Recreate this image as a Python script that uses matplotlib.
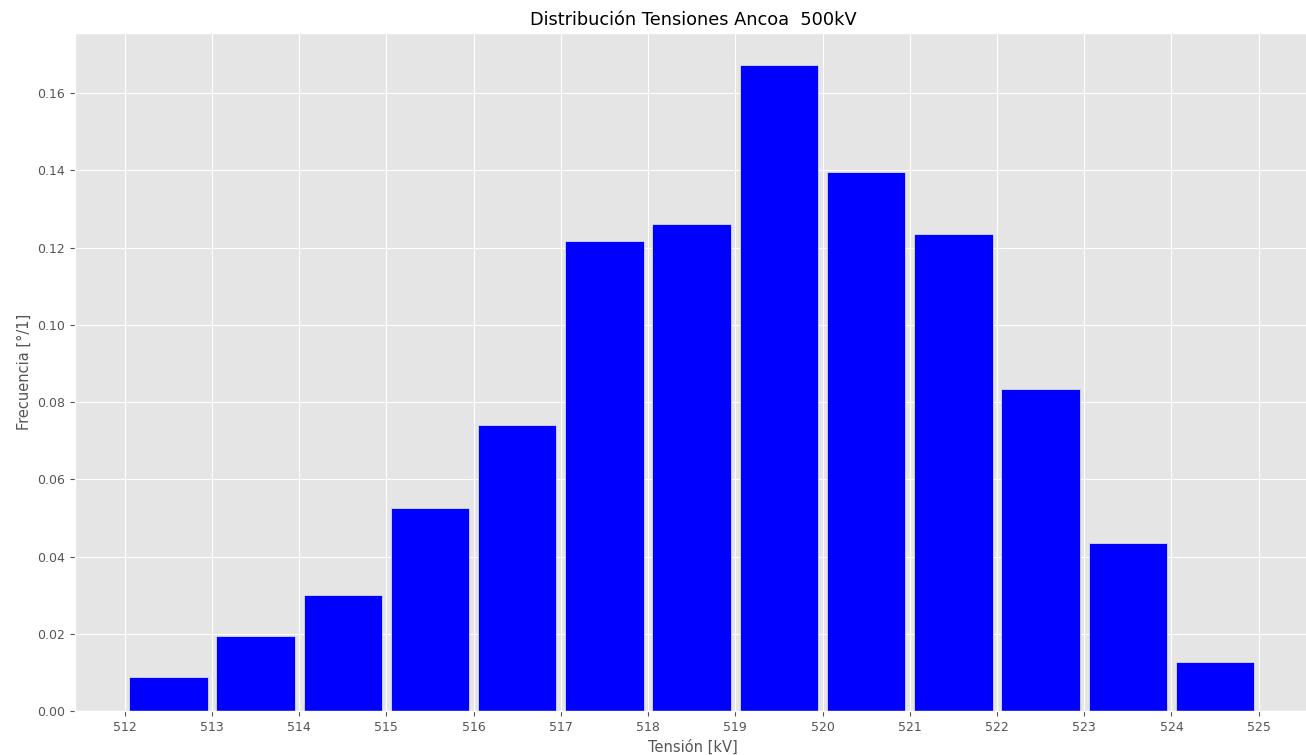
import numpy as np
import matplotlib.pyplot as plt

plt.style.use('ggplot')

# bin edges (kV) and relative frequency per bin
edges = np.arange(512, 526)
freq = [0.0088, 0.0194, 0.0300, 0.0526, 0.0740, 0.1217, 0.1261,
        0.1672, 0.1395, 0.1235, 0.0834, 0.0435, 0.0127]
xticks = list(range(512, 526))

fig = plt.figure(figsize=(13.06, 7.55), dpi=100)
ax = fig.add_axes([75 / 1306, 44 / 755, 1236 / 1306, 678 / 755])

centers = edges[:-1] + 0.5
ax.bar(centers, freq, width=0.9, color='blue', edgecolor='#EEEEEE', linewidth=0.5)

ax.set_xlim(511.43, 525.6)
ax.set_xticks(xticks)
ax.tick_params(labelsize=9)
ax.set_xlabel('Tensión [kV]', fontsize=10.5)
ax.set_ylabel('Frecuencia [°/1]', fontsize=10.5)
ax.set_title('Distribución Tensiones Ancoa  500kV', fontsize=12.8, color='black')

fig.savefig('out.png', dpi=100)
